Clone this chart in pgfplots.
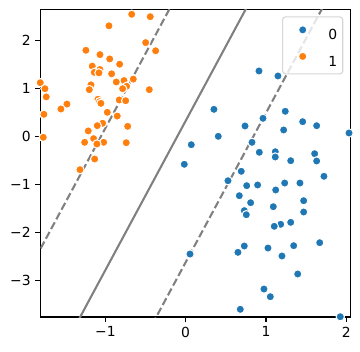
\documentclass[border=0pt]{standalone}
\usepackage{fontspec}
\setmainfont{DejaVu Sans}
\usepackage{pgfplots}
\pgfplotsset{compat=1.18}
\definecolor{c0}{HTML}{1F77B4}
\definecolor{c1}{HTML}{FF7F0E}
\definecolor{lgray}{HTML}{808080}
\definecolor{legedge}{HTML}{CCCCCC}
\begin{document}
\fontsize{13.9pt}{16pt}\selectfont
\begin{tikzpicture}
\begin{axis}[
  scale only axis,
  width=310.4pt, height=307.7pt,
  xmin=-1.81, xmax=2.055,
  ymin=-3.756, ymax=2.654,
  xtick={-1,0,1,2},
  xticklabels={−1,0,1,2},
  ytick={-3,-2,-1,0,1,2},
  yticklabels={−3,−2,−1,0,1,2},
  tick align=outside,
  major tick length=4.86pt,
  tick style={line width=1.1pt, black},
  axis line style={line width=1.1pt, black},
  xtick pos=bottom, ytick pos=left,
  ticklabel style={font=\fontsize{13.9pt}{16pt}\selectfont},
  clip=true,
  legend style={at={(0.976,0.977)}, anchor=north east, draw=legedge, rounded corners=2.8pt,
    fill=white, fill opacity=0.8, draw opacity=0.8, text opacity=1, line width=1.1pt,
    font=\fontsize{13.9pt}{16pt}\selectfont, row sep=11pt, inner xsep=5.6pt, inner ysep=7.4pt,
    nodes={inner sep=0pt, text height=10pt, text depth=0pt},
    /tikz/every odd column/.append style={column sep=11.1pt}},
  legend cell align=left,
  legend image code/.code={\path (0pt,0pt) (27.8pt,10pt);
    \draw[#1, mark=*, mark size=4.17pt, opacity=1, fill opacity=1, draw opacity=1] plot coordinates {(13.9pt,5pt)};},
]
\addplot[only marks, mark=*, mark size=4.17pt, mark options={fill=c0, draw=white, line width=1.04pt}] coordinates {
(0.913,1.369) (1.149,1.265) (0.352,0.570) (1.240,0.529) (0.963,0.383)
(1.457,0.313) (0.739,0.223) (1.631,0.229) (1.220,0.140) (2.034,0.077)
(0.406,0.008) (0.826,-0.117) (0.070,-0.167) (0.917,-0.325) (1.116,-0.313)
(1.116,-0.423) (1.606,-0.354) (1.631,-0.506) (1.308,-0.500) (-0.017,-0.575)
(0.692,-0.721) (1.722,-0.825) (0.527,-0.917) (0.760,-1.020) (0.896,-1.006)
(1.233,-0.965) (1.423,-0.965) (0.668,-1.229) (1.121,-1.110) (0.809,-1.375)
(1.469,-1.333) (0.730,-1.540) (0.755,-1.625) (1.091,-1.458) (1.469,-1.569)
(1.308,-1.784) (1.183,-1.825) (1.103,-1.867) (1.669,-2.208) (1.345,-2.270)
(0.730,-2.277) (1.025,-2.319) (0.651,-2.409) (1.199,-2.485) (0.054,-2.444)
(1.395,-2.860) (0.975,-3.173) (1.054,-3.333) (0.680,-3.596) (1.925,-3.750)
};
\addlegendentry{0}
\addplot[only marks, mark=*, mark size=4.17pt, mark options={fill=c1, draw=white, line width=1.04pt}] coordinates {
(-1.428,2.66) (-0.672,2.55) (-0.441,2.50) (-0.955,2.31) (-0.498,1.96)
(-0.374,1.79) (-1.242,1.80) (-1.067,1.71) (-0.946,1.62) (-0.822,1.51)
(-1.163,1.47) (-1.067,1.40) (-1.138,1.34) (-1.080,1.33) (-0.922,1.31)
(-0.652,1.20) (-0.768,1.17) (-0.864,1.14) (-1.810,1.125) (-1.179,1.08)
(-0.735,1.05) (-0.785,1.00) (-1.752,1.00) (-1.200,0.98) (-0.453,0.98)
(-1.736,0.83) (-0.827,0.765) (-1.092,0.78) (-1.071,0.73) (-1.055,0.695)
(-0.747,0.75) (-1.478,0.68) (-1.553,0.577) (-0.976,0.508) (-1.765,0.466)
(-0.852,0.43) (-1.034,0.28) (-1.101,0.23) (-0.722,0.216) (-1.213,0.12)
(-1.773,-0.013) (-1.146,-0.04) (-1.258,-0.117) (-1.021,-0.117) (-0.740,-0.125)
(-1.105,-0.152) (-1.133,-0.465) (-1.316,-0.687)
};
\addlegendentry{1}
\addplot[forget plot, lgray, line width=2.08pt] coordinates {(-2,-5.890) (1,3.440)};
\addplot[forget plot, lgray, line width=2.08pt, dash pattern=on 7.7pt off 3.3pt] coordinates {(-2,-2.933) (0,3.287)};
\addplot[forget plot, lgray, line width=2.08pt, dash pattern=on 7.7pt off 3.3pt] coordinates {(-1,-5.726) (2.1,3.915)};
\end{axis}
\path ([shift={(-40.3pt,-34pt)}]current axis.south west) rectangle ([shift={(9.3pt,9.3pt)}]current axis.north east);
\end{tikzpicture}
\end{document}
